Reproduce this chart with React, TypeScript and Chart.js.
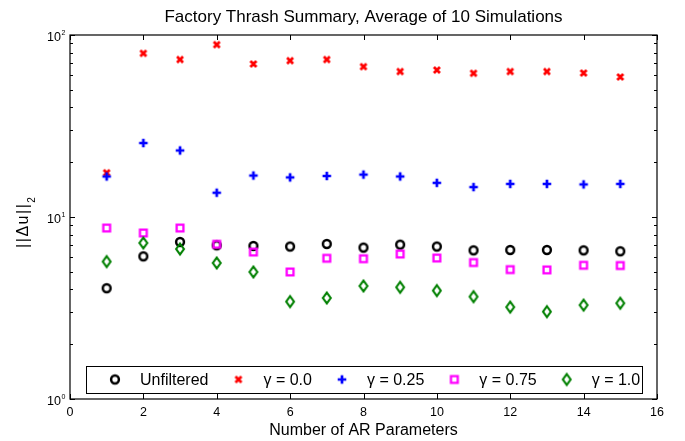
import React, { useEffect, useRef } from 'react';
import { Chart, registerables } from 'chart.js';

Chart.register(...registerables);

const FONT = '"Liberation Sans", Arial, Helvetica, sans-serif';

const chartTitle = 'Factory Thrash Summary, Average of 10 Simulations';
const xAxisTitle = 'Number of AR Parameters';
const yAxisTitleMain = '||Δu||';
const yAxisTitleSub = '2';

const arParams = [1, 2, 3, 4, 5, 6, 7, 8, 9, 10, 11, 12, 13, 14, 15];
const unfiltered = [4.06, 6.08, 7.29, 6.99, 6.93, 6.88, 7.11, 6.79, 7.05, 6.88, 6.56, 6.59, 6.59, 6.56, 6.48];
const gamma00 = [17.5, 79.3, 73.3, 88.5, 69.3, 72.3, 73.3, 67.0, 63.0, 64.2, 61.6, 63.0, 63.0, 61.8, 58.8];
const gamma025 = [16.7, 25.5, 23.2, 13.6, 16.9, 16.5, 16.8, 17.1, 16.7, 15.4, 14.6, 15.2, 15.2, 15.1, 15.2];
const gamma075 = [8.7, 8.17, 8.7, 7.08, 6.42, 4.99, 5.93, 5.9, 6.26, 5.95, 5.62, 5.14, 5.12, 5.43, 5.41];
const gamma10 = [5.69, 7.2, 6.67, 5.59, 4.99, 3.43, 3.59, 4.18, 4.11, 3.94, 3.65, 3.2, 3.02, 3.28, 3.36];

const seriesLabels = ['Unfiltered', 'γ = 0.0', 'γ = 0.25', 'γ = 0.75', 'γ = 1.0'];
const seriesColors = ['#000000', '#ff0000', '#0000ff', '#ff00ff', '#008000'];
const seriesMarkers = ['circle', 'x', 'plus', 'square', 'diamond'];
const seriesValues = [unfiltered, gamma00, gamma025, gamma075, gamma10];

const xMin = 0;
const xMax = 16;
const xStep = 2;
const yMin = 1;
const yMax = 100;
const yDecades = [1, 10, 100];

function makeMarker(kind: string, color: string): HTMLCanvasElement {
  const c = document.createElement('canvas');
  c.width = 16;
  c.height = 16;
  const g = c.getContext('2d') as CanvasRenderingContext2D;
  g.strokeStyle = color;
  const cx = 8;
  const cy = 8;
  g.beginPath();
  if (kind === 'circle') {
    g.lineWidth = 2.5;
    g.arc(cx, cy, 3.9, 0, Math.PI * 2);
  } else if (kind === 'x') {
    g.lineWidth = 2.8;
    g.moveTo(cx - 3, cy - 3);
    g.lineTo(cx + 3, cy + 3);
    g.moveTo(cx + 3, cy - 3);
    g.lineTo(cx - 3, cy + 3);
  } else if (kind === 'plus') {
    g.lineWidth = 2.7;
    g.moveTo(cx - 4.3, cy);
    g.lineTo(cx + 4.3, cy);
    g.moveTo(cx, cy - 4.3);
    g.lineTo(cx, cy + 4.3);
  } else if (kind === 'square') {
    g.lineWidth = 2.3;
    g.rect(cx - 3.4, cy - 3.4, 6.8, 6.8);
  } else {
    g.lineWidth = 2.1;
    g.moveTo(cx, cy - 5.4);
    g.lineTo(cx + 3.9, cy);
    g.lineTo(cx, cy + 5.4);
    g.lineTo(cx - 3.9, cy);
    g.closePath();
  }
  g.stroke();
  return c;
}

export default function App() {
  const ref = useRef<HTMLCanvasElement | null>(null);

  useEffect(() => {
    const canvas = ref.current;
    if (!canvas) return;
    const markers = seriesMarkers.map((m, i) => makeMarker(m, seriesColors[i]));

    const datasets = seriesValues.map((vals, i) => ({
      label: seriesLabels[i],
      data: arParams.map((x, j) => ({ x, y: vals[j] })),
      pointStyle: markers[i] as any,
      pointRadius: 5,
      showLine: false,
      order: seriesValues.length - 1 - i,
    }));

    const decor = {
      id: 'decor',
      afterDraw(chart: any) {
        const { ctx, chartArea } = chart;
        const { left, right, top, bottom } = chartArea;
        const xs = chart.scales.x;
        const ys = chart.scales.y;
        ctx.save();
        ctx.strokeStyle = '#000';
        ctx.lineWidth = 1;
        ctx.beginPath();
        for (let v = xMin; v <= xMax; v += xStep) {
          const px = Math.round(xs.getPixelForValue(v)) + 0.5;
          ctx.moveTo(px, bottom);
          ctx.lineTo(px, bottom - 5);
          ctx.moveTo(px, top);
          ctx.lineTo(px, top + 5);
        }
        for (let d = yMin; d < yMax; d *= 10) {
          for (let m = 1; m <= 10; m++) {
            const py = Math.round(ys.getPixelForValue(d * m)) + 0.5;
            const len = m === 1 || m === 10 ? 5 : 3;
            ctx.moveTo(left, py);
            ctx.lineTo(left + len, py);
            ctx.moveTo(right, py);
            ctx.lineTo(right - len, py);
          }
        }
        ctx.stroke();
        ctx.lineWidth = 1.2;
        ctx.strokeRect(left, top, right - left, bottom - top);

        // y tick labels 10^n
        ctx.fillStyle = '#000';
        for (const v of yDecades) {
          const py = ys.getPixelForValue(v);
          const exp = String(Math.round(Math.log10(v)));
          ctx.font = `12.5px ${FONT}`;
          ctx.textAlign = 'right';
          ctx.textBaseline = 'alphabetic';
          ctx.fillText('10', left - 9, py + 6);
          ctx.font = `7px ${FONT}`;
          ctx.textAlign = 'left';
          ctx.fillText(exp, left - 8.5, py + 0.3);
        }

        // y axis title
        ctx.save();
        ctx.font = `16px ${FONT}`;
        (ctx as any).letterSpacing = '1.5px';
        const mainW = ctx.measureText(yAxisTitleMain).width;
        ctx.font = `10px ${FONT}`;
        (ctx as any).letterSpacing = '0px';
        const subW = ctx.measureText(yAxisTitleSub).width;
        const total = mainW + subW;
        ctx.translate(28, 222.5);
        ctx.rotate(-Math.PI / 2);
        ctx.textAlign = 'left';
        ctx.textBaseline = 'alphabetic';
        ctx.font = `16px ${FONT}`;
        (ctx as any).letterSpacing = '1.5px';
        ctx.fillText(yAxisTitleMain, -total / 2, 0);
        ctx.font = `10px ${FONT}`;
        (ctx as any).letterSpacing = '0px';
        ctx.fillText(yAxisTitleSub, -total / 2 + mainW, 7);
        ctx.restore();

        // legend
        const lbLeft = left + 16;
        const lbRight = right - 15;
        const lbBottom = bottom - 6;
        const lbTop = lbBottom - 27;
        ctx.fillStyle = '#fff';
        ctx.fillRect(lbLeft, lbTop, lbRight - lbLeft, lbBottom - lbTop);
        ctx.strokeStyle = '#000';
        ctx.lineWidth = 1;
        ctx.strokeRect(Math.round(lbLeft) + 0.5, Math.round(lbTop) + 0.5, Math.round(lbRight - lbLeft), Math.round(lbBottom - lbTop));
        const cy = (lbTop + lbBottom) / 2;
        let mx = lbLeft + 29;
        ctx.font = `16px ${FONT}`;
        ctx.textAlign = 'left';
        ctx.textBaseline = 'middle';
        ctx.fillStyle = '#000';
        seriesLabels.forEach((lab, i) => {
          const mk = markers[i];
          ctx.drawImage(mk, mx - mk.width / 2, cy - mk.height / 2);
          const tx = mx + 25;
          ctx.fillText(lab, tx, cy + 1);
          mx = tx + ctx.measureText(lab).width + 30;
        });
        ctx.restore();
      },
    };

    const chart = new Chart(canvas, {
      type: 'scatter',
      data: { datasets: datasets as any },
      options: {
        animation: false,
        responsive: false,
        maintainAspectRatio: false,
        devicePixelRatio: 1,
        events: [],
        layout: { padding: { top: 0, left: 0, right: 28, bottom: 0 } },
        plugins: {
          legend: { display: false },
          tooltip: { enabled: false },
          title: {
            display: true,
            text: chartTitle,
            fullSize: false,
            color: '#000',
            font: { family: FONT, size: 17, weight: 'normal' },
            padding: { top: 7, bottom: 7.6 },
          },
        },
        scales: {
          x: {
            type: 'linear',
            min: xMin,
            max: xMax,
            ticks: {
              stepSize: xStep,
              color: '#000',
              font: { family: FONT, size: 12.5 },
              padding: 6,
              maxRotation: 0,
              autoSkip: false,
            },
            grid: { display: false, drawTicks: false },
            border: { display: false },
            title: {
              display: true,
              text: xAxisTitle,
              color: '#000',
              font: { family: FONT, size: 16 },
              padding: { top: 0, bottom: 1 },
            },
            afterFit: (s: any) => {
              s.height = 42;
            },
          },
          y: {
            type: 'logarithmic',
            min: yMin,
            max: yMax,
            ticks: { display: false },
            grid: { display: false },
            border: { display: false },
            afterFit: (s: any) => {
              s.width = 70;
            },
          },
        },
      } as any,
      plugins: [decor],
    });
    return () => chart.destroy();
  }, []);

  return (
    <div style={{ position: 'absolute', left: 0, top: 0, width: 685, height: 441, background: '#fff' }}>
      <canvas ref={ref} width={685} height={441} style={{ display: 'block', width: 685, height: 441 }} />
    </div>
  );
}
